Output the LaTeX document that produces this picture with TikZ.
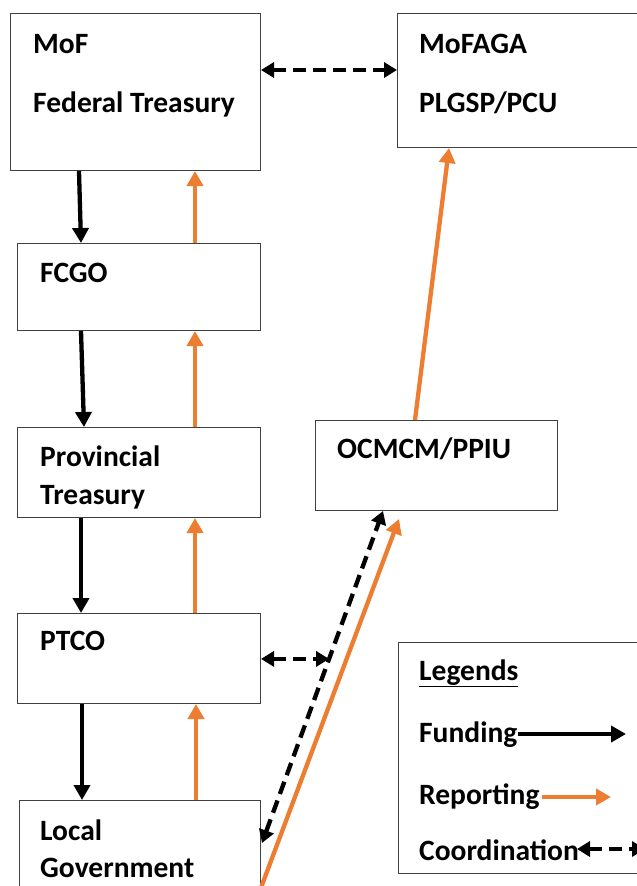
\documentclass[tikz,border=0pt]{standalone}
\usepackage{fontspec}
\setmainfont{Carlito}
\usetikzlibrary{arrows.meta,calc}
\definecolor{rep}{HTML}{ED7D31}
\begin{document}
\begin{tikzpicture}[x=1pt,y=-1pt,
  box/.style={draw=black!75,line width=1pt,inner sep=0pt,anchor=north west},
  txt/.style={anchor=base west,inner sep=0pt,font=\fontsize{29.5}{34}\selectfont\bfseries},
  fund/.style={line width=4.3pt,black,-{Triangle[length=15pt,width=16pt]}},
  repo/.style={line width=4.3pt,rep,-{Triangle[length=15pt,width=16pt]}},
  coord/.style={line width=4.3pt,black,dash pattern=on 13pt off 7pt,{Triangle[length=13pt,width=15pt]}-{Triangle[length=13pt,width=15pt]}}]
\clip (0,0) rectangle (637,886);
\fill[white] (0,0) rectangle (637,886);
% boxes
\node[box,minimum width=250pt,minimum height=157pt] (mof) at (10,13) {};
\node[box,minimum width=262pt,minimum height=134pt] (mofaga) at (397,13) {};
\node[box,minimum width=243pt,minimum height=87pt] (fcgo) at (17,243) {};
\node[box,minimum width=243pt,minimum height=90pt] (pt) at (17,427) {};
\node[box,minimum width=243pt,minimum height=90pt] (ptco) at (17,613) {};
\node[box,minimum width=241pt,minimum height=100pt] (lg) at (19,800) {};
\node[box,minimum width=242pt,minimum height=90pt] (ocm) at (315,420) {};
\node[box,minimum width=260pt,minimum height=231pt] (leg) at (398,642) {};
% texts
\node[txt] (t1) at (33,53) {MoF};
\node[txt] (t2) at (33,112) {Federal Treasury};
\node[txt] (t3) at (419,53) {MoFAGA};
\node[txt] (t4) at (419,112) {PLGSP/PCU};
\node[txt] (t5) at (40,282) {FCGO};
\node[txt] (t6) at (40,466) {Provincial};
\node[txt] (t7) at (40,504) {Treasury};
\node[txt] (t8) at (40,650) {PTCO};
\node[txt] (t9) at (40,840) {Local};
\node[txt] (t10) at (40,877) {Government};
\node[txt] (t11) at (337,458) {OCMCM/PPIU};
\node[txt] (l0) at (419,680) {\underline{Legends}};
\node[txt] (l1) at (419,742) {Funding};
\node[txt] (l2) at (419,804) {Reporting};
\node[txt] (l3) at (419,860) {Coordination};
% funding arrows
\draw[fund] ([xshift=69pt]mof.south west) -- ([xshift=64pt]fcgo.north west);
\draw[fund] ([xshift=64pt]fcgo.south west) -- ([xshift=67pt]pt.north west);
\draw[fund] ([xshift=64pt]pt.south west) -- ([xshift=64pt]ptco.north west);
\draw[fund] ([xshift=65pt]ptco.south west) -- ([xshift=63pt]lg.north west);
% reporting arrows
\draw[repo] ([xshift=178pt]fcgo.north west) -- ([xshift=185pt]mof.south west);
\draw[repo] ([xshift=178pt]pt.north west) -- ([xshift=178pt]fcgo.south west);
\draw[repo] ([xshift=178pt]ptco.north west) -- ([xshift=178pt]pt.south west);
\draw[repo] ([xshift=177pt]lg.north west) -- ([xshift=179pt]ptco.south west);
\draw[repo] ([xshift=100pt]ocm.north west) -- ([xshift=52pt]mofaga.south west);
\coordinate (lgo) at ([xshift=-5pt]lg.south east);
\draw[repo] (lgo) -- ($(ocm.south west)+(84,8)$);
% coordination
\draw[coord] ([yshift=-57pt]mof.north east) -- ([yshift=-57pt]mofaga.north west);
\coordinate (dtop) at ($(ocm.south west)+(68,0)$);
\coordinate (dbot) at ($(lg.north east)+(1,43)$);
\draw[coord] (dbot) -- (dtop);
\coordinate (dmid) at ($(dbot)!0.5545!(dtop)$);
\draw[coord] (ptco.east |- dmid) -- (dmid);
% legend arrows
\coordinate (f1) at (518,734);
\coordinate (f2) at (626,734);
\draw[fund] (f1) -- (f2);
\coordinate (r1) at (542,797);
\coordinate (r2) at (611,797);
\draw[repo] (r1) -- (r2);
\coordinate (c1) at (577,849);
\coordinate (c2) at (645,849);
\draw[coord] (c1) -- (c2);
\end{tikzpicture}
\end{document}
